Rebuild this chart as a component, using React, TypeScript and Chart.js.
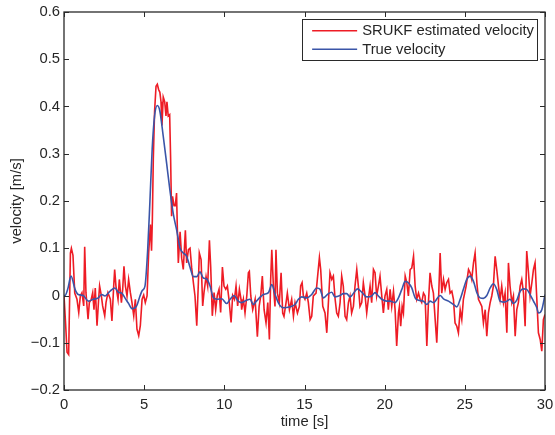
import { useEffect, useRef } from 'react';
import { Chart, registerables } from 'chart.js';

Chart.register(...registerables);

// ---------- data ----------
const redTime = [
  0.00, 0.10, 0.19, 0.29, 0.40, 0.46, 0.56, 0.67, 0.81, 0.92, 1.02, 1.12, 1.23, 1.29, 1.37, 1.50, 1.58, 1.70, 1.79, 1.87,
  1.95, 2.06, 2.16, 2.22, 2.33, 2.41, 2.54, 2.62, 2.74, 2.89, 2.99, 3.10, 3.16, 3.24, 3.37, 3.45, 3.58, 3.66, 3.74, 3.83,
  3.93, 4.03, 4.14, 4.24, 4.35, 4.45, 4.55, 4.66, 4.76, 4.87, 4.97, 5.07, 5.18, 5.28, 5.39, 5.46, 5.51, 5.57, 5.65, 5.74,
  5.82, 5.90, 5.98, 6.05, 6.11, 6.19, 6.28, 6.36, 6.42, 6.50, 6.59, 6.65, 6.71, 6.77, 6.86, 6.94, 7.02, 7.07, 7.13, 7.24,
  7.34, 7.44, 7.57, 7.65, 7.76, 7.86, 7.96, 8.07, 8.17, 8.28, 8.38, 8.44, 8.55, 8.65, 8.73, 8.86, 8.96, 9.07, 9.15, 9.25,
  9.36, 9.46, 9.56, 9.67, 9.77, 9.88, 9.98, 10.09, 10.19, 10.29, 10.42, 10.52, 10.63, 10.73, 10.83, 10.94, 11.04, 11.08, 11.19, 11.29,
  11.40, 11.50, 11.56, 11.65, 11.77, 11.92, 12.06, 12.17, 12.27, 12.37, 12.48, 12.60, 12.71, 12.81, 12.89, 12.96, 13.06, 13.16, 13.22, 13.31,
  13.43, 13.54, 13.64, 13.72, 13.85, 13.93, 14.06, 14.20, 14.31, 14.41, 14.56, 14.68, 14.76, 14.85, 14.93, 15.03, 15.14, 15.24, 15.35, 15.45,
  15.55, 15.72, 15.80, 15.93, 16.01, 16.14, 16.28, 16.39, 16.49, 16.59, 16.70, 16.80, 16.91, 17.01, 17.11, 17.22, 17.32, 17.42, 17.53, 17.63,
  17.74, 17.84, 17.94, 18.05, 18.15, 18.26, 18.36, 18.46, 18.57, 18.67, 18.78, 18.88, 18.98, 19.09, 19.19, 19.30, 19.40, 19.50, 19.61, 19.71,
  19.82, 19.92, 20.02, 20.13, 20.23, 20.34, 20.44, 20.55, 20.65, 20.75, 20.86, 20.92, 21.00, 21.09, 21.17, 21.28, 21.38, 21.48, 21.59, 21.69,
  21.80, 21.90, 22.00, 22.11, 22.21, 22.31, 22.42, 22.52, 22.63, 22.73, 22.83, 22.94, 23.04, 23.15, 23.25, 23.36, 23.46, 23.56, 23.67, 23.77,
  23.87, 23.98, 24.08, 24.19, 24.29, 24.39, 24.50, 24.60, 24.71, 24.81, 24.91, 25.08, 25.23, 25.33, 25.43, 25.54, 25.64, 25.75, 25.85, 25.95,
  26.06, 26.16, 26.27, 26.37, 26.47, 26.58, 26.68, 26.78, 26.89, 26.99, 27.10, 27.20, 27.30, 27.41, 27.51, 27.62, 27.72, 27.82, 27.93, 28.03,
  28.14, 28.24, 28.34, 28.45, 28.55, 28.66, 28.76, 28.86, 28.97, 29.07, 29.18, 29.28, 29.38, 29.49, 29.59, 29.70, 29.80, 29.90, 30.00,
];
const redVel = [
  0.000, -0.060, -0.120, -0.125, 0.090, 0.100, 0.085, 0.005, -0.008, -0.036, -0.001, 0.006, -0.022, 0.103, 0.006, -0.050, -0.015, -0.008, 0.006, -0.030,
  0.016, -0.064, -0.008, 0.020, -0.001, -0.022, -0.043, -0.015, 0.006, -0.008, -0.054, 0.020, 0.055, 0.020, -0.008, 0.034, -0.015, 0.013, 0.062, 0.020,
  -0.001, 0.034, 0.006, -0.015, -0.043, -0.008, -0.071, -0.085, -0.064, -0.008, 0.001, -0.015, -0.001, 0.090, 0.150, 0.095, 0.160, 0.290, 0.390, 0.443,
  0.447, 0.436, 0.430, 0.410, 0.360, 0.420, 0.410, 0.380, 0.410, 0.380, 0.383, 0.290, 0.168, 0.210, 0.190, 0.190, 0.217, 0.140, 0.069, 0.135,
  0.079, 0.055, 0.138, 0.069, 0.097, 0.100, 0.060, 0.027, -0.001, -0.064, 0.027, 0.090, 0.076, -0.022, 0.006, 0.040, 0.020, 0.117, 0.060, -0.043,
  0.006, -0.030, 0.000, 0.013, -0.036, 0.060, 0.020, 0.013, 0.020, -0.008, -0.057, 0.000, -0.008, 0.020, -0.022, 0.013, -0.008, -0.030, -0.008, -0.037,
  -0.001, 0.048, 0.051, -0.001, -0.030, -0.008, -0.087, -0.023, -0.001, 0.041, -0.030, -0.058, -0.015, -0.093, 0.034, 0.097, 0.020, -0.023, 0.097, 0.005,
  -0.015, 0.048, -0.037, -0.044, -0.015, 0.005, -0.030, -0.008, -0.044, -0.015, -0.037, -0.023, 0.020, 0.027, -0.001, -0.008, 0.005, -0.015, -0.051, -0.044,
  -0.001, 0.005, 0.034, 0.080, 0.055, -0.023, -0.037, -0.079, -0.015, 0.048, 0.034, 0.041, -0.008, -0.037, -0.044, -0.015, 0.041, 0.020, -0.044, -0.051,
  -0.015, -0.001, -0.037, -0.023, 0.020, 0.055, 0.020, -0.023, -0.015, 0.027, -0.001, -0.037, -0.008, 0.020, -0.015, 0.055, 0.048, -0.001, 0.020, 0.041,
  -0.001, -0.037, -0.001, 0.013, -0.030, 0.013, -0.023, 0.009, -0.030, -0.107, -0.037, -0.023, -0.065, -0.023, -0.037, 0.041, 0.027, -0.001, 0.055, 0.058,
  0.083, 0.020, -0.008, 0.005, -0.008, -0.015, 0.005, -0.001, -0.107, -0.015, 0.048, 0.020, 0.005, -0.051, -0.100, -0.008, 0.090, 0.005, 0.034, 0.013,
  0.027, 0.034, 0.005, 0.009, -0.008, -0.058, -0.065, -0.079, -0.030, -0.051, -0.008, 0.020, 0.055, 0.048, 0.034, 0.069, 0.090, 0.027, -0.008, -0.015,
  -0.023, -0.058, -0.030, -0.086, -0.037, -0.015, -0.001, 0.020, 0.083, 0.055, 0.020, -0.008, 0.020, -0.015, 0.005, -0.079, 0.069, 0.020, -0.015, -0.001,
  -0.086, -0.030, -0.015, 0.020, 0.034, 0.005, -0.065, 0.094, 0.048, -0.001, 0.027, 0.055, 0.069, -0.008, -0.079, -0.093, -0.118, -0.051, -0.040,
];

const blueTime = [
  0.00, 0.06, 0.23, 0.44, 0.69, 0.89, 1.20, 1.52, 1.83, 2.14, 2.35, 2.56, 2.87, 3.18, 3.39, 3.60, 3.80, 4.01, 4.26, 4.53,
  4.74, 4.89, 5.05, 5.22, 5.36, 5.50, 5.65, 5.82, 5.98, 6.19, 6.40, 6.61, 6.82, 7.03, 7.24, 7.44, 7.65, 7.86, 8.07, 8.28,
  8.48, 8.69, 8.90, 9.11, 9.32, 9.53, 9.84, 10.15, 10.36, 10.60, 10.87, 11.08, 11.39, 11.60, 11.81, 12.00, 12.44, 12.75, 12.96, 13.17,
  13.38, 13.68, 14.10, 14.41, 14.62, 14.83, 15.14, 15.45, 15.76, 15.97, 16.18, 16.49, 16.70, 16.90, 17.22, 17.42, 17.63, 17.84, 18.15, 18.30,
  18.57, 18.88, 19.19, 19.40, 19.61, 19.82, 20.13, 20.34, 20.65, 20.86, 21.07, 21.28, 21.48, 21.69, 21.90, 22.11, 22.42, 22.63, 22.83, 23.04,
  23.46, 23.67, 23.98, 24.29, 24.50, 24.71, 24.91, 25.12, 25.33, 25.54, 25.75, 25.95, 26.16, 26.37, 26.58, 26.78, 26.99, 27.20, 27.41, 27.62,
  27.82, 28.03, 28.24, 28.45, 28.66, 28.86, 29.07, 29.28, 29.49, 29.59, 29.80, 30.00,
];
const blueVel = [
  0.000, 0.000, 0.013, 0.041, 0.013, 0.002, 0.000, -0.012, -0.008, -0.005, 0.002, -0.001, 0.009, 0.016, 0.007, 0.005, -0.005, -0.016, -0.028, -0.022,
  -0.001, 0.011, 0.020, 0.097, 0.200, 0.310, 0.380, 0.402, 0.390, 0.337, 0.280, 0.222, 0.172, 0.138, 0.100, 0.090, 0.083, 0.060, 0.040, 0.040,
  0.050, 0.037, 0.035, 0.020, -0.005, -0.008, -0.007, -0.017, -0.008, 0.000, -0.012, -0.015, -0.010, -0.008, -0.019, -0.012, 0.002, 0.006, 0.023, 0.002,
  -0.016, -0.026, -0.024, -0.019, -0.008, -0.003, -0.005, 0.002, 0.016, 0.013, -0.005, 0.004, 0.007, -0.003, 0.000, 0.004, 0.004, -0.003, 0.009, 0.014,
  0.007, -0.003, -0.001, 0.006, -0.001, -0.008, -0.012, -0.012, -0.015, -0.005, 0.013, 0.030, 0.027, 0.016, -0.005, -0.010, -0.012, -0.019, -0.012, -0.015,
  0.000, -0.007, -0.012, -0.019, -0.024, -0.008, 0.013, 0.034, 0.041, 0.030, 0.006, -0.005, -0.006, 0.000, 0.016, 0.025, 0.013, -0.012, -0.014, -0.012,
  -0.008, -0.017, -0.010, 0.009, 0.014, 0.013, 0.002, -0.012, -0.026, -0.037, -0.030, 0.002,
];

const seriesLabels = ['SRUKF estimated velocity', 'True velocity'];
const seriesColors = ['#ee1c25', '#3a55a8'];
const xTicks = [0, 5, 10, 15, 20, 25, 30];
const xTickLabels = ['0', '5', '10', '15', '20', '25', '30'];
const yTicks = [-0.2, -0.1, 0, 0.1, 0.2, 0.3, 0.4, 0.5, 0.6];
const yTickLabels = ['\u22120.2', '\u22120.1', '0', '0.1', '0.2', '0.3', '0.4', '0.5', '0.6'];
const xTitle = 'time [s]';
const yTitle = 'velocity [m/s]';

const FONT = '"Liberation Sans", Arial, Helvetica, sans-serif';
const FONT_SIZE = 14.8;
const TEXT_COLOR = '#262626';

const framePlugin = {
  id: 'matlabFrame',
  afterDatasetsDraw(chart: any) {
    const { ctx, chartArea } = chart;
    const { left, right, top, bottom } = chartArea;
    const xs = chart.scales.x;
    const ys = chart.scales.y;
    const tl = 5;
    ctx.save();
    ctx.strokeStyle = '#2a2a2a';
    ctx.lineWidth = 1.3;
    ctx.strokeRect(left, top, right - left, bottom - top);
    ctx.beginPath();
    xTicks.forEach((v) => {
      const px = Math.round(xs.getPixelForValue(v)) + 0.5;
      ctx.moveTo(px, bottom);
      ctx.lineTo(px, bottom - tl);
      ctx.moveTo(px, top);
      ctx.lineTo(px, top + tl);
    });
    yTicks.forEach((v) => {
      const py = Math.round(ys.getPixelForValue(v)) + 0.5;
      ctx.moveTo(left, py);
      ctx.lineTo(left + tl, py);
      ctx.moveTo(right, py);
      ctx.lineTo(right - tl, py);
    });
    ctx.lineWidth = 1;
    ctx.stroke();

    // legend
    ctx.font = `${FONT_SIZE}px ${FONT}`;
    const tw = Math.max(...seriesLabels.map((s) => ctx.measureText(s).width));
    const bw = 60 + tw + 3;
    const bh = 41;
    const bx = right - 8 - bw;
    const by = top + 7;
    ctx.fillStyle = '#ffffff';
    ctx.fillRect(bx, by, bw, bh);
    ctx.strokeStyle = '#2a2a2a';
    ctx.lineWidth = 1;
    ctx.strokeRect(Math.round(bx) + 0.5, Math.round(by) + 0.5, Math.round(bw), bh);
    const rows = [by + 11.7, by + 30.3];
    seriesLabels.forEach((lab, i) => {
      ctx.strokeStyle = seriesColors[i];
      ctx.lineWidth = 1.5;
      ctx.beginPath();
      ctx.moveTo(bx + 10, rows[i]);
      ctx.lineTo(bx + 55, rows[i]);
      ctx.stroke();
      ctx.fillStyle = TEXT_COLOR;
      ctx.textBaseline = 'middle';
      ctx.textAlign = 'left';
      ctx.fillText(lab, bx + 60, rows[i] + 0.5);
    });
    ctx.restore();
  },
};

export default function App() {
  const ref = useRef<HTMLCanvasElement | null>(null);
  useEffect(() => {
    if (!ref.current) return;
    const chart = new Chart(ref.current, {
      type: 'line',
      data: {
        datasets: [
          {
            label: seriesLabels[0],
            data: redTime.map((t, i) => ({ x: t, y: redVel[i] })),
            borderColor: seriesColors[0],
            borderWidth: 1.6,
            pointRadius: 0,
            tension: 0,
            order: 1,
          },
          {
            label: seriesLabels[1],
            data: blueTime.map((t, i) => ({ x: t, y: blueVel[i] })),
            borderColor: seriesColors[1],
            borderWidth: 1.6,
            pointRadius: 0,
            cubicInterpolationMode: 'monotone',
            order: 0,
          },
        ],
      },
      options: {
        responsive: false,
        animation: false,
        events: [],
        layout: { padding: { left: 0, top: 12, right: 10, bottom: 0 } },
        plugins: { legend: { display: false }, tooltip: { enabled: false } },
        scales: {
          x: {
            type: 'linear',
            min: 0,
            max: 30,
            grid: { display: false, drawTicks: false },
            border: { display: false },
            afterBuildTicks: (s: any) => {
              s.ticks = xTicks.map((v) => ({ value: v }));
            },
            afterFit: (s: any) => {
              s.height = 45;
              s.paddingLeft = 0;
              s.paddingRight = 0;
            },
            ticks: {
              padding: 6,
              color: TEXT_COLOR,
              font: { family: FONT, size: FONT_SIZE },
              maxRotation: 0,
              callback: (v: any) => xTickLabels[xTicks.indexOf(Number(v))] ?? '',
            },
            title: {
              display: true,
              text: xTitle,
              color: TEXT_COLOR,
              font: { family: FONT, size: FONT_SIZE },
              padding: { top: 0, bottom: 4 },
            },
          },
          y: {
            type: 'linear',
            min: -0.2,
            max: 0.6,
            grid: { display: false, drawTicks: false },
            border: { display: false },
            afterBuildTicks: (s: any) => {
              s.ticks = yTicks.map((v) => ({ value: v }));
            },
            afterFit: (s: any) => {
              s.width = 64;
              s.paddingTop = 0;
              s.paddingBottom = 0;
            },
            ticks: {
              padding: 4,
              color: TEXT_COLOR,
              font: { family: FONT, size: FONT_SIZE },
              callback: (v: any) => {
                const idx = yTicks.findIndex((t) => Math.abs(t - Number(v)) < 1e-9);
                return idx >= 0 ? yTickLabels[idx] : '';
              },
            },
            title: {
              display: true,
              text: yTitle,
              color: TEXT_COLOR,
              font: { family: FONT, size: FONT_SIZE },
              padding: { top: 8, bottom: 0 },
            },
          },
        },
      },
      plugins: [framePlugin],
    } as any);
    return () => chart.destroy();
  }, []);

  return (
    <div style={{ position: 'absolute', left: 0, top: 0, width: 555, height: 435, background: '#fff' }}>
      <canvas ref={ref} width={555} height={435} style={{ display: 'block' }} />
    </div>
  );
}
